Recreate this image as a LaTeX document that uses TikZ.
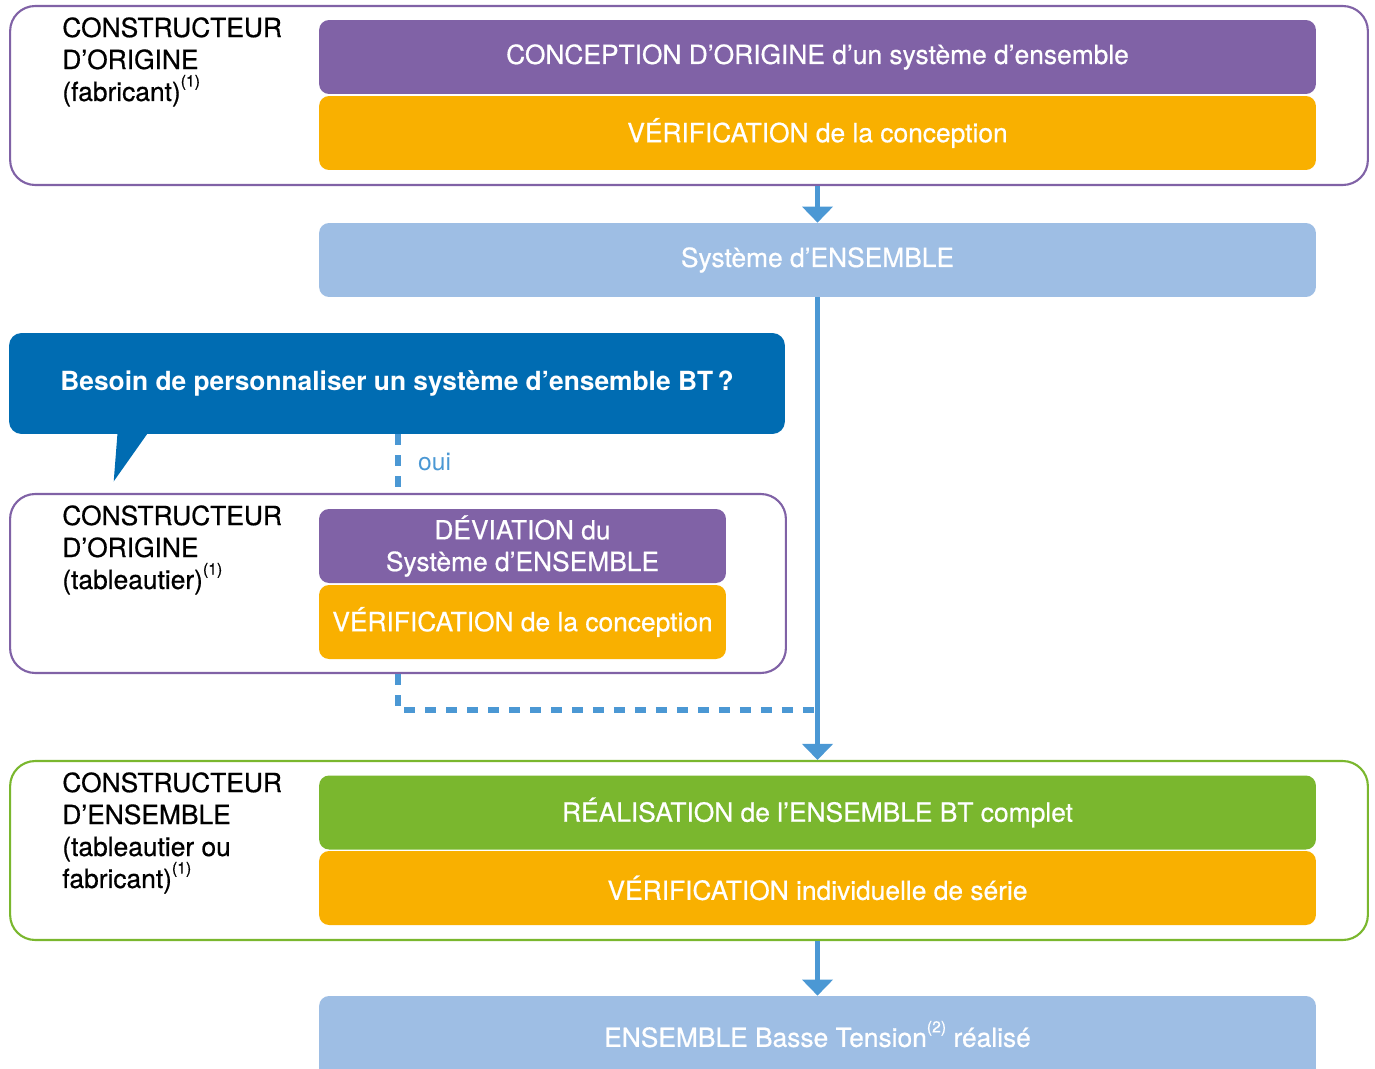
\documentclass[tikz,border=0pt]{standalone}
\usepackage{fontspec}
\setmainfont{TeX Gyre Heros}
\newfontfamily\mediumfont{TeX Gyre Heros}[FakeBold=0.6]
\usetikzlibrary{arrows.meta,positioning,calc}
\definecolor{originpurple}{RGB}{128,98,166}
\definecolor{checkorange}{RGB}{249,176,0}
\definecolor{systemblue}{RGB}{158,190,228}
\definecolor{questionblue}{RGB}{0,108,178}
\definecolor{flowblue}{RGB}{75,152,212}
\definecolor{buildgreen}{RGB}{122,183,46}
\newcommand{\fnmark}[1]{\raisebox{0.55em}{\fontsize{9}{9}\selectfont(#1)}}

\begin{document}
\begin{tikzpicture}[x=0.02cm, y=-0.02cm,
    frame/.style={draw, fill=white, line width=1.2pt, rounded corners=0.5cm,
                  minimum width=27.16cm, minimum height=3.58cm},
    bar/.style={rounded corners=0.2cm, minimum width=19.94cm, minimum height=1.48cm,
                inner sep=0pt, align=center, text=white, font=\fontsize{15}{18}\mediumfont},
    halfbar/.style={bar, minimum width=8.14cm},
    role/.style={anchor=north west, align=left, inner sep=0pt, font=\fontsize{15}{18.2}\mediumfont},
    flow/.style={draw=flowblue, line width=3pt, -{Triangle[width=0.6cm,length=0.32cm]}},
    option/.style={draw=flowblue, line width=3pt, dash pattern=on 0.22cm off 0.2cm}
]
\useasboundingbox (0,0) rectangle (1375,1068);

% Frames of the three actors
\node[frame, draw=originpurple] (top) at (689,95.5) {};
\node[frame, draw=originpurple, minimum width=15.52cm] (middle) at (398,583.5) {};
\node[frame, draw=buildgreen] (bottom) at (689,850.5) {};

% Actor labels
\node[role] (maker) at (62,17) {CONSTRUCTEUR\\D’ORIGINE\\(fabricant)\fnmark{1}};
\node[role] (panel) at (62,505) {CONSTRUCTEUR\\D’ORIGINE\\(tableautier)\fnmark{1}};
\node[role] (builder) at (62,772) {CONSTRUCTEUR\\D’ENSEMBLE\\(tableautier ou\\fabricant)\fnmark{1}};

% Original design
\node[bar, fill=originpurple] (design) at (817.5,57) {\raisebox{-0.45ex}{CONCEPTION D’ORIGINE d’un système d’ensemble}};
\node[bar, fill=checkorange] (check1) at (817.5,133) {VÉRIFICATION de la conception};
\node[bar, fill=systemblue] (sys) at (817.5,260) {\raisebox{-0.5ex}{Système d’ENSEMBLE}};

% Question bubble
\node[fill=questionblue, rounded corners=0.25cm, minimum width=15.52cm, minimum height=2.02cm,
      text=white, font=\fontsize{15}{18}\selectfont\bfseries] (question) at (397,383.5)
     {Besoin de personnaliser un système d’ensemble BT\,?};
\fill[questionblue] ($(question.south west)+(109,-4)$) -- ($(question.south west)+(141,-4)$)
     -- ($(question.south west)+(105,47)$) -- cycle;

% Deviation
\node[halfbar, fill=originpurple] (deviation) at (522.5,546) {DÉVIATION du\\Système d’ENSEMBLE};
\node[halfbar, fill=checkorange] (check2) at (522.5,622) {VÉRIFICATION de la conception};

% Assembly
\node[bar, fill=buildgreen] (build) at (817.5,812.5) {RÉALISATION de l’ENSEMBLE BT complet};
\node[bar, fill=checkorange] (check3) at (817.5,888) {VÉRIFICATION individuelle de série};
\node[bar, fill=systemblue, minimum height=1.68cm] (result) at (817.5,1038)
     {\raisebox{0.6ex}{ENSEMBLE Basse Tension\fnmark{2} réalisé}};

% Connectors
\coordinate (merge) at (398,710);
\draw[flow] (sys.north |- top.south) -- (sys.north);
\draw[flow] (sys.south) -- (sys.south |- bottom.north);
\draw[flow] (sys.south |- bottom.south) -- (result.north);
\draw[option] (question.south -| merge) -- (middle.north -| merge);
\draw[option] (middle.south -| merge) -- (merge) -- (merge -| sys.south);
\node[anchor=west, text=flowblue, font=\fontsize{14}{16}\selectfont] (yes) at (412,462) {oui};

\end{tikzpicture}
\end{document}
